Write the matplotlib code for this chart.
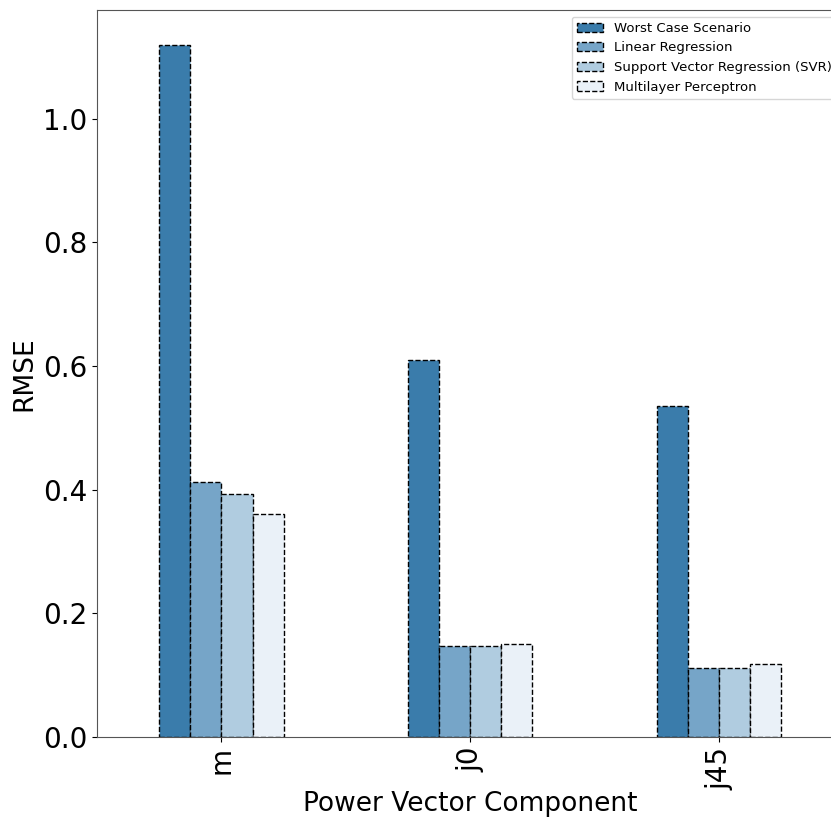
import matplotlib
matplotlib.use("Agg")
import matplotlib.pyplot as plt
import numpy as np

components = ["m", "j0", "j45"]
models = ["Worst Case Scenario", "Linear Regression",
          "Support Vector Regression (SVR)", "Multilayer Perceptron"]
worst_case = [1.1197, 0.6097, 0.5358]
linear_reg = [0.4124, 0.1477, 0.1116]
svr = [0.3935, 0.1477, 0.1116]
mlp = [0.3607, 0.1500, 0.1176]
colors = ["#3a7cab", "#76a5c8", "#b0cce0", "#eaf1f8"]

series = [worst_case, linear_reg, svr, mlp]

fig = plt.figure(figsize=(8.31, 8.19), dpi=100)
ax = fig.add_axes([97 / 831, 82 / 819, (843.5 - 97) / 831, (737 - 10) / 819])

x = np.arange(len(components))
n = len(series)
width = 0.5 / n
for i, (vals, name, col) in enumerate(zip(series, models, colors)):
    offs = x - 0.25 + width * (i + 0.5)
    ax.bar(offs, vals, width=width, color=col, edgecolor="black",
           linestyle="--", linewidth=1.0, label=name)

ax.set_xlim(-0.5, len(components) - 0.5)
ax.set_ylim(0, 1.1197 * 1.05)
ax.set_xticks(x)
ax.set_xticklabels(components, rotation=90, fontsize=20)
ax.set_yticks([0.0, 0.2, 0.4, 0.6, 0.8, 1.0])
ax.set_yticklabels(["0.0", "0.2", "0.4", "0.6", "0.8", "1.0"], fontsize=20)
ax.set_xlabel("Power Vector Component", fontsize=19, labelpad=1)
ax.set_ylabel("RMSE", fontsize=19)
for sp in ax.spines.values():
    sp.set_color("#555555")
ax.legend(loc="upper right", fontsize=9.5)

fig.savefig("out.png", dpi=100)
